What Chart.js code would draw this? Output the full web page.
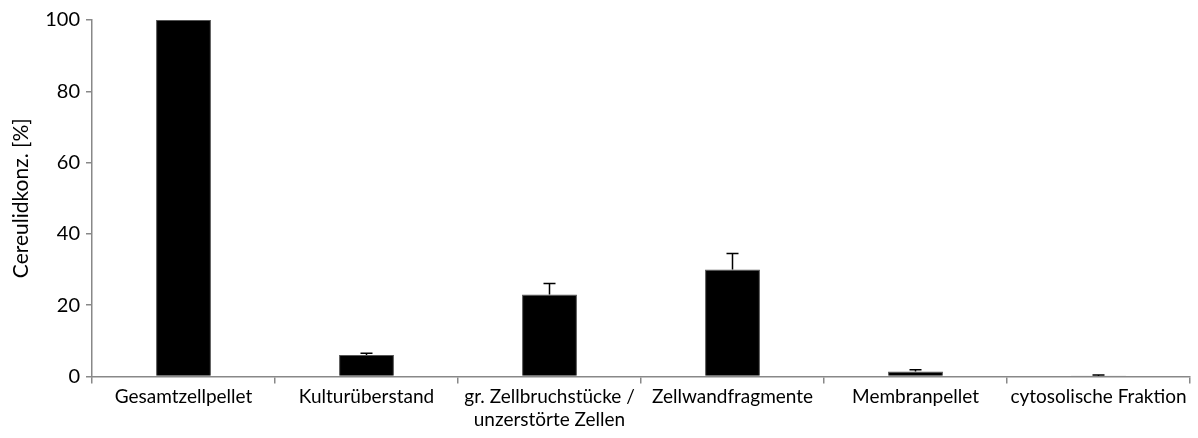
<!DOCTYPE html>
<html>
<head>
<meta charset="utf-8">
<script src="https://cdn.jsdelivr.net/npm/chart.js@4"></script>
<style>
  html, body { margin: 0; padding: 0; background: #fff; }
  #wrap { width: 1198px; height: 438px; }
</style>
</head>
<body>
<div id="wrap"><canvas id="chart"></canvas></div>
<script>
const categories = [
  'Gesamtzellpellet',
  'Kulturüberstand',
  ['gr. Zellbruchstücke /', 'unzerstörte Zellen'],
  'Zellwandfragmente',
  'Membranpellet',
  'cytosolische Fraktion'
];
const values = [100, 6, 23, 30, 1.4, 0.1];
const errors = [0, 0.5, 3.1, 4.5, 0.5, 0.3];
const yTicks = [0, 20, 40, 60, 80, 100];

// draws the upward error bars with a cap, through the y scale
const errorBars = {
  id: 'errorBars',
  afterDatasetsDraw(chart) {
    const ctx = chart.ctx;
    const meta = chart.getDatasetMeta(0);
    const y = chart.scales.y;
    ctx.save();
    ctx.strokeStyle = '#000';
    ctx.lineWidth = 1.5;
    meta.data.forEach((bar, i) => {
      if (!errors[i]) return;
      const top = y.getPixelForValue(values[i] + errors[i]);
      const base = y.getPixelForValue(values[i]);
      ctx.beginPath();
      ctx.moveTo(bar.x, base);
      ctx.lineTo(bar.x, top);
      ctx.moveTo(bar.x - 6, top);
      ctx.lineTo(bar.x + 6, top);
      ctx.stroke();
    });
    ctx.restore();
  }
};

const ctx = document.getElementById('chart').getContext('2d');
new Chart(ctx, {
  type: 'bar',
  data: {
    labels: categories,
    datasets: [{
      data: values,
      backgroundColor: '#000',
      borderColor: '#555',
      borderWidth: 1,
      barPercentage: 0.3,
      categoryPercentage: 1
    }]
  },
  options: {
    responsive: true,
    maintainAspectRatio: false,
    animation: false,
    layout: { padding: { top: 20, right: 8, left: 4, bottom: 5 } },
    plugins: { legend: { display: false }, tooltip: { enabled: false } },
    scales: {
      x: {
        grid: { offset: true, drawOnChartArea: false, tickLength: 7, color: '#888', lineWidth: 1.5 },
        border: { color: '#888', width: 1.5 },
        ticks: { color: '#000', font: { family: 'Lato', size: 19 }, maxRotation: 0, autoSkip: false, padding: 2 }
      },
      y: {
        min: 0,
        max: 100,
        afterBuildTicks: axis => { axis.ticks = yTicks.map(v => ({ value: v })); },
        grid: { drawOnChartArea: false, tickLength: 6, color: '#888', lineWidth: 1.5 },
        border: { color: '#888', width: 1.5 },
        ticks: { color: '#000', font: { family: 'Lato', size: 20 }, padding: 6 },
        title: { display: true, text: 'Cereulidkonz. [%]', color: '#000', font: { family: 'Lato', size: 21 }, padding: 5 }
      }
    }
  },
  plugins: [errorBars]
});
</script>
</body>
</html>
